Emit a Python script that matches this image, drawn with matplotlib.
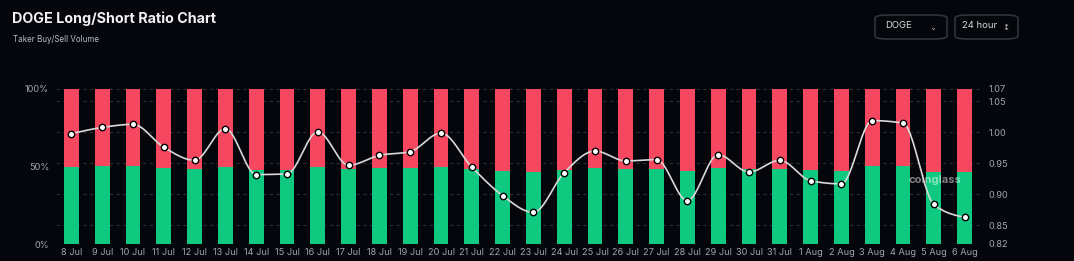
import numpy as np
import matplotlib
matplotlib.use("Agg")
import matplotlib.pyplot as plt
from matplotlib.patches import FancyBboxPatch
from matplotlib.transforms import blended_transform_factory

# ---------------- data ----------------
dates = ["8 Jul", "9 Jul", "10 Jul", "11 Jul", "12 Jul", "13 Jul", "14 Jul", "15 Jul",
         "16 Jul", "17 Jul", "18 Jul", "19 Jul", "20 Jul", "21 Jul", "22 Jul", "23 Jul",
         "24 Jul", "25 Jul", "26 Jul", "27 Jul", "28 Jul", "29 Jul", "30 Jul", "31 Jul",
         "1 Aug", "2 Aug", "3 Aug", "4 Aug", "5 Aug", "6 Aug"]
long_pct = [49.9, 50.1, 50.1, 49.2, 48.6, 49.9, 47.7, 47.7, 49.9, 48.6,
            49.0, 49.0, 49.9, 48.4, 47.3, 46.2, 47.7, 49.0, 48.6, 48.6,
            46.9, 48.8, 48.2, 48.6, 47.5, 47.3, 50.3, 50.1, 46.7, 46.2]
short_pct = [100 - v for v in long_pct]
ratio = [0.998, 1.008, 1.013, 0.976, 0.955, 1.006, 0.932, 0.933, 1.001, 0.947,
         0.963, 0.969, 0.999, 0.944, 0.898, 0.871, 0.935, 0.970, 0.954, 0.956,
         0.890, 0.964, 0.936, 0.955, 0.922, 0.917, 1.019, 1.015, 0.884, 0.863]
left_ticks = [0, 50, 100]
left_labels = ["0%", "50%", "100%"]
right_ticks = [0.82, 0.85, 0.90, 0.95, 1.00, 1.05, 1.07]
right_labels = ["0.82", "0.85", "0.90", "0.95", "1.00", "1.05", "1.07"]

# ---------------- style ----------------
BG = "#05060b"
RED = "#f5475f"
GREEN = "#10c981"
GRID = "#2a2d34"
TICK = "#a3a5ab"
FONT = ["Inter", "DejaVu Sans"]
plt.rcParams["font.family"] = FONT

W, H = 1074, 261
fig = plt.figure(figsize=(W / 100, H / 100), dpi=100, facecolor=BG)

x0, x1, ytop, ybot = 56, 980, 89, 244
ax = fig.add_axes([x0 / W, (H - ybot) / H, (x1 - x0) / W, (ybot - ytop) / H])
ax.set_facecolor(BG)
ax2 = ax.twinx()

x = np.arange(len(dates))
ax.bar(x, long_pct, width=0.48, color=GREEN, zorder=3)
ax.bar(x, short_pct, width=0.48, bottom=long_pct, color=RED, zorder=3)
ax.set_xlim(-0.5, len(dates) - 0.5)
ax.set_ylim(0, 100)
ax2.set_ylim(0.82, 1.07)

# grid lines at right-axis ticks, behind bars
tr = blended_transform_factory(ax.transAxes, ax2.transData)
for t in right_ticks:
    ax.plot([0, 1], [t, t], transform=tr, color=GRID, lw=0.8, ls=(0, (3, 3)), zorder=1)


# monotone cubic curve through the ratio points
def monotone_curve(xs, ys, n=24):
    xs = np.asarray(xs, float)
    ys = np.asarray(ys, float)
    h = np.diff(xs)
    s = np.diff(ys) / h
    m = np.zeros_like(ys)
    for k in range(1, len(ys) - 1):
        s0, s1 = s[k - 1], s[k]
        p = (s0 * h[k] + s1 * h[k - 1]) / (h[k - 1] + h[k])
        m[k] = (np.sign(s0) + np.sign(s1)) * min(abs(s0), abs(s1), 0.5 * abs(p))
    m[0] = (3 * s[0] - m[1]) / 2
    m[-1] = (3 * s[-1] - m[-2]) / 2
    out_x, out_y = [], []
    for k in range(len(xs) - 1):
        t = np.linspace(0, 1, n, endpoint=(k == len(xs) - 2))
        h00 = 2 * t**3 - 3 * t**2 + 1
        h10 = t**3 - 2 * t**2 + t
        h01 = -2 * t**3 + 3 * t**2
        h11 = t**3 - t**2
        out_x.append(xs[k] + t * h[k])
        out_y.append(h00 * ys[k] + h10 * h[k] * m[k] + h01 * ys[k + 1] + h11 * h[k] * m[k + 1])
    return np.concatenate(out_x), np.concatenate(out_y)


cx, cy = monotone_curve(x, ratio)
ax2.plot(cx, cy, color="#d9d9d9", lw=1.2, zorder=4)
ax2.plot(x, ratio, ls="none", marker="o", ms=4.6, mfc="white", mec="#000000", mew=1.0, zorder=5)
ax2.set_ylim(0.82, 1.07)

# axes styling
for a in (ax, ax2):
    for sp in a.spines.values():
        sp.set_visible(False)
ax.set_xticks(x)
ax.set_xticklabels(dates)
ax.set_yticks(left_ticks)
ax.set_yticklabels(left_labels)
ax2.set_yticks(right_ticks)
ax2.set_yticklabels(right_labels)
ax.tick_params(axis="x", length=0, pad=3, labelsize=6.6, labelcolor=TICK)
ax.tick_params(axis="y", length=0, pad=5, labelsize=6.6, labelcolor=TICK)
ax2.tick_params(axis="y", length=0, pad=6, labelsize=6.6, labelcolor=TICK)

# watermark
ax.text(0.923, 0.415, "coinglass", transform=ax.transAxes, color="white", alpha=0.5,
        fontsize=8, fontweight="bold", ha="left", va="center", zorder=6)

# title and subtitle
fig.text(12 / W, 1 - 19 / H, "DOGE Long/Short Ratio Chart", color="#f2f2f2",
         fontsize=10.3, fontweight="bold", ha="left", va="center")
fig.text(13 / W, 1 - 40 / H, "Taker Buy/Sell Volume", color="#b8bac0",
         fontsize=5.8, ha="left", va="center")

# dropdown boxes
def box(xa, xb, ya, yb):
    p = FancyBboxPatch((xa / W, 1 - yb / H), (xb - xa) / W, (yb - ya) / H,
                       boxstyle="round,pad=0,rounding_size=0.012",
                       transform=fig.transFigure, facecolor=BG, edgecolor="#30343b", lw=1.2)
    fig.patches.append(p)

box(875, 947, 15, 39)
box(955, 1018, 15, 39)
fig.text(885 / W, 1 - 26 / H, "DOGE", color="#d8d9dc", fontsize=6.8, ha="left", va="center")
fig.text(933 / W, 1 - 28 / H, "⌄", color="#bbbbbb", fontsize=6, ha="center", va="center",
         family=["DejaVu Sans"])
fig.text(962 / W, 1 - 26 / H, "24 hour", color="#d8d9dc", fontsize=6.8, ha="left", va="center")
fig.text(1006 / W, 1 - 27 / H, "↕", color="#bbbbbb", fontsize=6, ha="center", va="center",
         family=["DejaVu Sans"])

fig.savefig("out.png", dpi=100, facecolor=BG)
